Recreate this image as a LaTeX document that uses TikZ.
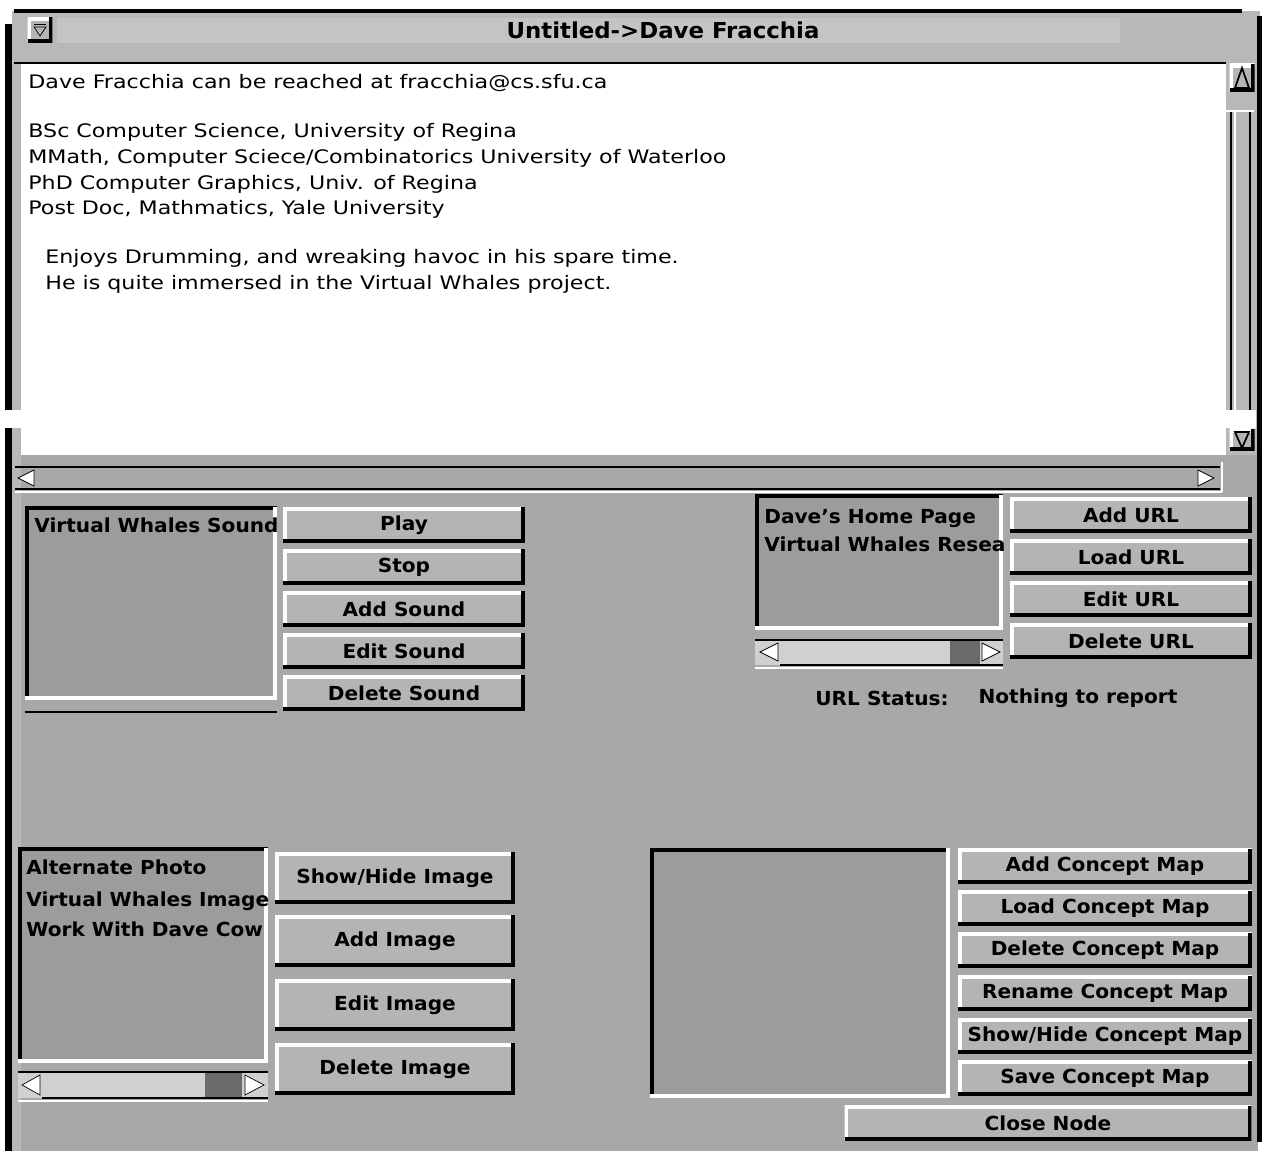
\documentclass[tikz,border=0pt]{standalone}
\usepackage{fontspec}
\setmainfont{DejaVu Sans}
\newfontfamily\guitext[FakeStretch=1.19]{DejaVu Sans}
\newfontfamily\guibold[FakeStretch=1.04]{DejaVu Sans}
\definecolor{panel}{HTML}{A8A8A8}
\definecolor{face}{HTML}{B4B4B4}
\definecolor{wellgray}{HTML}{9C9C9C}
\definecolor{titlebg}{HTML}{B8B8B8}
\definecolor{band}{HTML}{C4C4C4}
\definecolor{slider}{HTML}{D0D0D0}
\definecolor{thumb}{HTML}{6A6A6A}
\tikzset{
  raised/.style={path picture={
      \draw[white, line width=4pt] (path picture bounding box.south west) |- (path picture bounding box.north east);
      \draw[black, line width=4pt] (path picture bounding box.south west) -| (path picture bounding box.north east);}},
  sunken/.style={path picture={
      \draw[black, line width=4pt] (path picture bounding box.south west) |- (path picture bounding box.north east);
      \draw[white, line width=4pt] (path picture bounding box.south west) -| (path picture bounding box.north east);}},
  btn/.style={raised, fill=face, inner sep=0pt, minimum height=0.7cm,
    font=\guibold\bfseries\fontsize{11}{13}\selectfont},
  well/.style={sunken, fill=wellgray, inner sep=0pt},
  item/.style={anchor=base west, inner sep=0pt, font=\guibold\bfseries\fontsize{11}{13}\selectfont},
  txtline/.style={anchor=base west, inner sep=0pt, font=\guitext\fontsize{10.6}{13}\selectfont},
}
\begin{document}
\begin{tikzpicture}[x=0.02cm, y=-0.02cm]
\useasboundingbox (0,0) rectangle (1269,1151);

% window frame
\fill[titlebg] (12,11) rectangle (1260,64);
\fill[panel] (12,455) rectangle (1258,1151);
\fill (5,24) rectangle (12,1151);
\fill[titlebg] (12,64) rectangle (21,1151);
\draw[line width=2.5pt] (14,11) -- (1242,11);
\fill (1257,16) rectangle (1262,1142);

% title bar
\fill[band] (57,18) rectangle (1120,43);
\node[raised, fill=face, minimum width=0.5cm, minimum height=0.5cm] (menu) at (40,30) {};
\draw (34,24) -- (46,24);
\draw (34,27) -- (46,27) -- (40,36) -- cycle;
\node[font=\guibold\bfseries\fontsize{12.5}{14}\selectfont] (title) at (663,30) {Untitled->Dave Fracchia};
\draw[line width=1.5pt] (14,63) -- (1226,63);

% text area
\fill[white] (22,64) rectangle (1226,455);
\node[txtline] (reach) at (28,89) {Dave Fracchia can be reached at fracchia@cs.sfu.ca};
\node[txtline] (bsc) at (28,138) {BSc Computer Science, University of Regina};
\node[txtline] (mmath) at (28,164) {MMath, Computer Sciece/Combinatorics University of Waterloo};
\node[txtline] (phd) at (28,190) {PhD Computer Graphics, Univ. of Regina};
\node[txtline] (postdoc) at (28,215) {Post Doc, Mathmatics, Yale University};
\node[txtline] (drum) at (45,264) {Enjoys Drumming, and wreaking havoc in his spare time.};
\node[txtline] (whales) at (45,290) {He is quite immersed in the Virtual Whales project.};

% vertical scrollbar
\fill[titlebg] (1226,64) rectangle (1257,455);
\node[raised, fill=face, minimum width=0.5cm, minimum height=0.56cm] (vup) at (1242,78) {};
\draw[line width=1pt] (1235,88) -- (1242,68) -- (1249,88) -- cycle;
\draw[white, line width=1pt] (1218,111) -- (1254,111);
\draw[line width=1.6pt] (1231,112) -- (1231,418);
\draw[white, line width=1.2pt] (1235,112) -- (1235,418);
\draw[line width=1.6pt] (1250,112) -- (1250,418);
\node[raised, fill=face, minimum width=0.5cm, minimum height=0.44cm] (vdown) at (1242,440) {};
\draw[line width=1pt] (1235,432) -- (1249,432) -- (1242,448) -- cycle;
\fill[white] (0,410) rectangle (1256,428);

% horizontal scrollbar
\draw[line width=1.5pt] (15,467) -- (1220,467);
\draw[line width=1.5pt] (15,489) -- (1220,489);
\draw[white, line width=1pt] (15,492) -- (1222,492);
\draw[white, line width=1pt] (1222,462) -- (1222,492);
\draw[fill=white] (34,470) -- (18,478) -- (34,486) -- cycle;
\draw[fill=white] (1198,470) -- (1214,478) -- (1198,486) -- cycle;

% sounds
\node[well, minimum width=5.04cm, minimum height=3.86cm] (sndlist) at (151,603) {};
\begin{scope}
\clip (sndlist.south west) rectangle (sndlist.north east);
\node[item] (snd1) at (34,533) {Virtual Whales Sound};
\end{scope}
\draw[line width=1.5pt] ([yshift=-0.24cm]sndlist.south west) -- ([yshift=-0.24cm]sndlist.south east);
\node[btn, minimum width=4.84cm] (play) at (404,525) {Play};
\node[btn, minimum width=4.84cm] (stop) at (404,567) {Stop};
\node[btn, minimum width=4.84cm] (addsnd) at (404,609) {Add Sound};
\node[btn, minimum width=4.84cm] (editsnd) at (404,651) {Edit Sound};
\node[btn, minimum width=4.84cm] (delsnd) at (404,693) {Delete Sound};

% urls
\node[well, minimum width=4.96cm, minimum height=2.7cm] (urllist) at (879,562) {};
\begin{scope}
\clip (urllist.south west) rectangle (urllist.north east);
\node[item] (url1) at (764,524) {Dave’s Home Page};
\node[item] (url2) at (764,552) {Virtual Whales Resea};
\end{scope}
\fill[slider] (755,640) rectangle (1003,665);
\fill[thumb] (950,640) rectangle (980,665);
\draw[line width=1.5pt] (755,640) -- (1003,640);
\draw[line width=1.5pt] (780,665) -- (1003,665);
\draw[white, line width=1pt] (755,668) -- (1003,668);
\draw[fill=white] (778,643) -- (760,652) -- (778,661) -- cycle;
\draw[fill=white] (982,643) -- (1000,652) -- (982,661) -- cycle;
\node[btn, minimum width=4.84cm] (addurl) at (1131,515) {Add URL};
\node[btn, minimum width=4.84cm] (loadurl) at (1131,557) {Load URL};
\node[btn, minimum width=4.84cm] (editurl) at (1131,599) {Edit URL};
\node[btn, minimum width=4.84cm] (delurl) at (1131,641) {Delete URL};
\node[item, anchor=center] (status) at (882,698) {URL Status:};
\node[item, anchor=center] (report) at (1078,698) {Nothing to report};

% images
\node[well, minimum width=5cm, minimum height=4.3cm] (imglist) at (143,955) {};
\begin{scope}
\clip (imglist.south west) rectangle (imglist.north east);
\node[item] (img1) at (26,875) {Alternate Photo};
\node[item] (img2) at (26,907) {Virtual Whales Image};
\node[item] (img3) at (26,937) {Work With Dave Cow};
\end{scope}
\fill[slider] (18,1072) rectangle (268,1098);
\fill[thumb] (205,1072) rectangle (242,1098);
\draw[line width=1.5pt] (18,1072) -- (268,1072);
\draw[line width=1.5pt] (42,1098) -- (268,1098);
\draw[white, line width=1pt] (18,1101) -- (268,1101);
\draw[fill=white] (40,1075) -- (22,1085) -- (40,1095) -- cycle;
\draw[fill=white] (245,1075) -- (264,1085) -- (245,1095) -- cycle;
\node[btn, minimum width=4.8cm, minimum height=1.04cm] (showimg) at (395,878) {Show/Hide Image};
\node[btn, minimum width=4.8cm, minimum height=1.04cm] (addimg) at (395,941) {Add Image};
\node[btn, minimum width=4.8cm, minimum height=1.04cm] (editimg) at (395,1005) {Edit Image};
\node[btn, minimum width=4.8cm, minimum height=1.04cm] (delimg) at (395,1069) {Delete Image};

% concept maps
\node[well, minimum width=6cm, minimum height=5cm] (mapview) at (800,973) {};
\node[btn, minimum width=5.88cm] (addmap) at (1105,866) {Add Concept Map};
\node[btn, minimum width=5.88cm] (loadmap) at (1105,908) {Load Concept Map};
\node[btn, minimum width=5.88cm] (delmap) at (1105,950) {Delete Concept Map};
\node[btn, minimum width=5.88cm] (renmap) at (1105,993) {Rename Concept Map};
\node[btn, minimum width=5.88cm] (showmap) at (1105,1036) {Show/Hide Concept Map};
\node[btn, minimum width=5.88cm] (savemap) at (1105,1078) {Save Concept Map};
\node[btn, minimum width=8.14cm] (close) at (1048,1123) {Close Node};
\end{tikzpicture}
\end{document}
